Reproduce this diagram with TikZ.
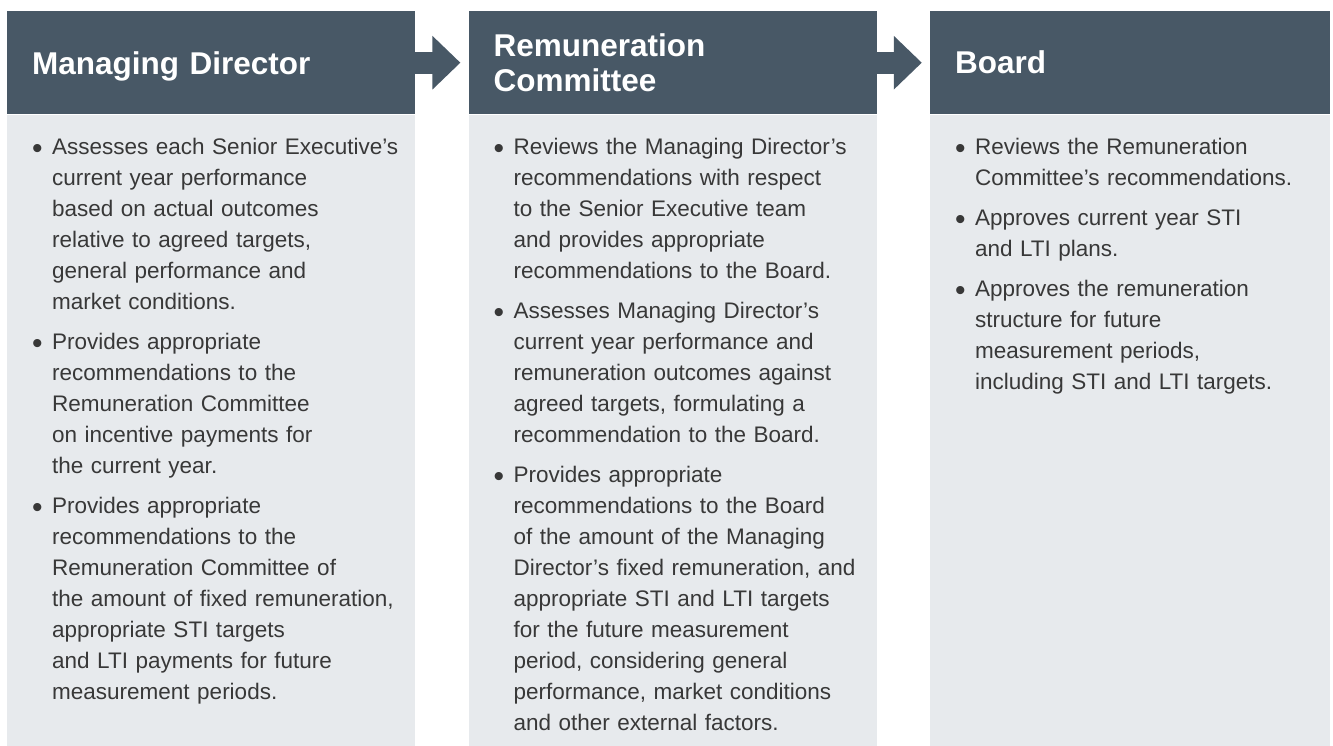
\documentclass[tikz,border=0pt]{standalone}
\usepackage{fontspec}
\setmainfont{Liberation Sans}
\usetikzlibrary{positioning}
\usetikzlibrary{arrows.meta}

\definecolor{hdr}{HTML}{485866}
\definecolor{panel}{HTML}{E7EAED}
\definecolor{bodytxt}{HTML}{383838}

\newcommand{\bpoint}[1]{\hangindent=20pt\hangafter=1\noindent\makebox[20pt][l]{\raisebox{-4.3pt}{\fontsize{30}{30}\selectfont\textbullet}}#1\par}

\tikzset{
  head/.style={fill=hdr, text=white, minimum height=103pt, inner xsep=25pt, inner ysep=0pt,
    text width=358pt, align=left, font=\bfseries\fontsize{31.5}{35}\selectfont},
  panelbox/.style={fill=panel, minimum width=408pt, minimum height=631pt, inner sep=0pt},
  points/.style={text=bodytxt, text width=380pt, inner sep=0pt, anchor=north west,
    font=\fontsize{22.5}{31}\selectfont\setlength{\parskip}{9pt}},
  flow/.style={hdr, line width=22pt, -{Triangle[length=28pt,width=52pt]}}
}

\begin{document}
\begin{tikzpicture}[x=1pt, y=1pt, node distance=53pt]
		\useasboundingbox (0,0) rectangle (1333,-745);
		\node (md) [head, anchor=north west, text depth=0pt] at (7,-11) {Managing Director};
		\node (rc) [head, right=of md] {Remuneration\\Committee};
		\node (bd) [head, right=of rc, text width=350pt] {Board};
		\node (mdp) [panelbox, below=0pt of md] {};
		\node (rcp) [panelbox, below=0pt of rc] {};
		\node (bdp) [panelbox, below=0pt of bd, minimum width=400pt] {};
		\node (mdt) [points] at ([shift={(25pt,-23.6pt)}]mdp.north west) {%
			\bpoint{Assesses each Senior Executive’s\newline current year performance\newline based on actual outcomes\newline relative to agreed targets,\newline general performance and\newline market conditions.}
			\bpoint{Provides appropriate\newline recommendations to the\newline Remuneration Committee\newline on incentive payments for\newline the current year.}
			\bpoint{Provides appropriate\newline recommendations to the\newline Remuneration Committee of\newline the amount of fixed remuneration,\newline appropriate STI targets\newline and LTI payments for future\newline measurement periods.}};
		\node (rct) [points] at ([shift={(25pt,-23.6pt)}]rcp.north west) {%
			\bpoint{Reviews the Managing Director’s\newline recommendations with respect\newline to the Senior Executive team\newline and provides appropriate\newline recommendations to the Board.}
			\bpoint{Assesses Managing Director’s\newline current year performance and\newline remuneration outcomes against\newline agreed targets, formulating a\newline recommendation to the Board.}
			\bpoint{Provides appropriate\newline recommendations to the Board\newline of the amount of the Managing\newline Director’s fixed remuneration, and\newline appropriate STI and LTI targets\newline for the future measurement\newline period, considering general\newline performance, market conditions\newline and other external factors.}};
		\node (bdt) [points] at ([shift={(25pt,-23.6pt)}]bdp.north west) {%
			\bpoint{Reviews the Remuneration\newline Committee’s recommendations.}
			\bpoint{Approves current year STI\newline and LTI plans.}
			\bpoint{Approves the remuneration\newline structure for future\newline measurement periods,\newline including STI and LTI targets.}};
		\draw[flow] (md.east) -- ([xshift=-8pt]rc.west);
		\draw[flow] (rc.east) -- ([xshift=-8pt]bd.west);
\end{tikzpicture}
\end{document}
